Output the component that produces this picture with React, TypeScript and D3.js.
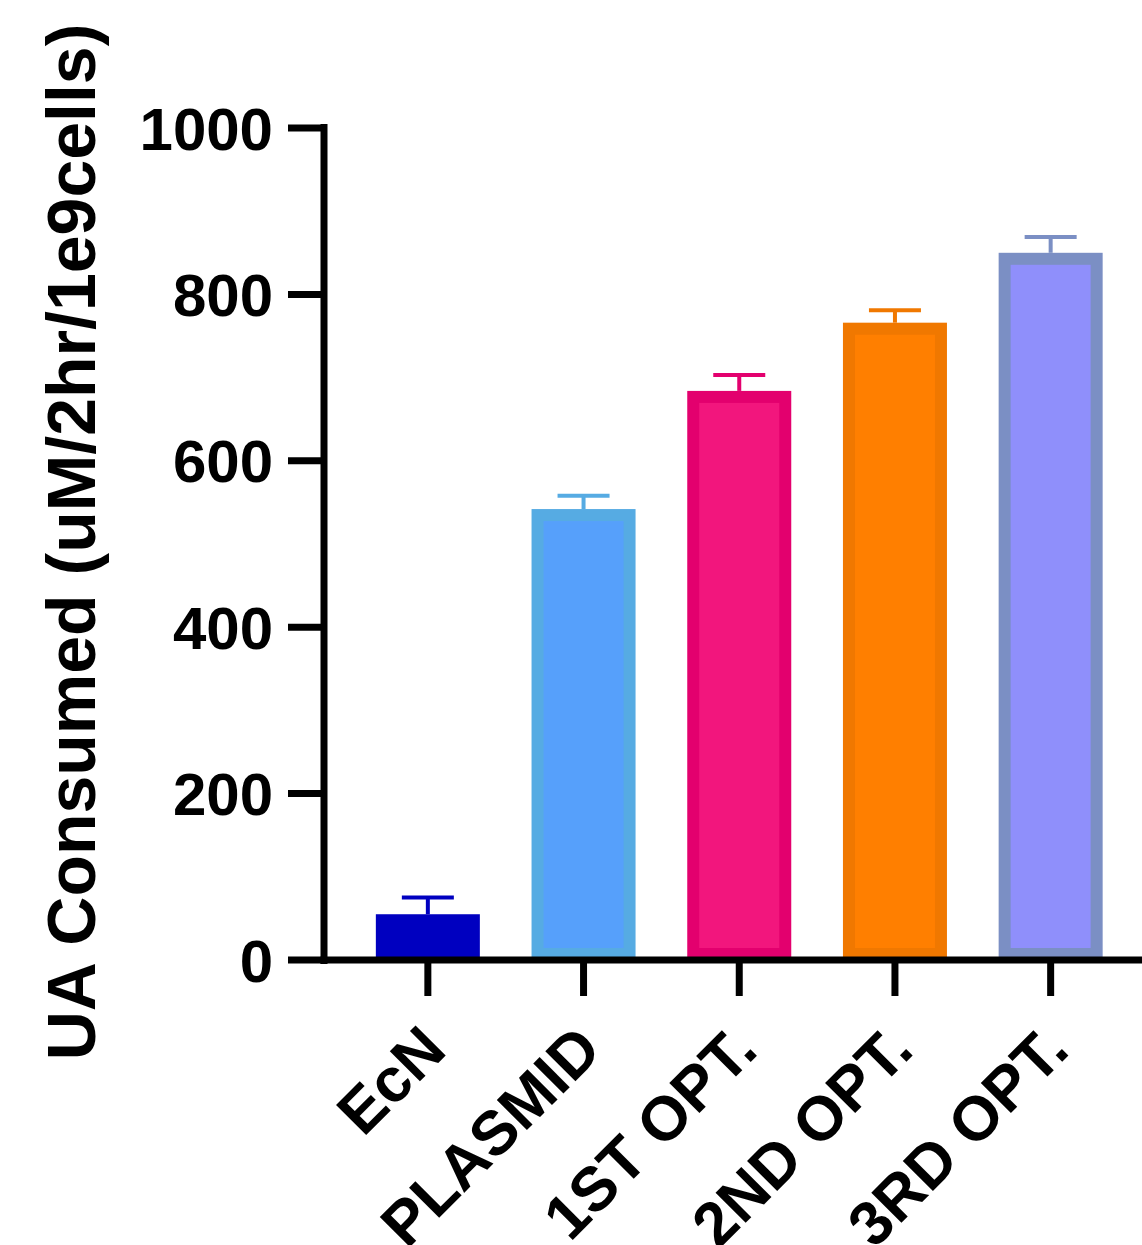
import { useEffect, useRef } from "react";
import * as d3 from "d3";

const categories = ["EcN", "PLASMID", "1ST OPT.", "2ND OPT.", "3RD OPT."];
const means = [55, 542, 684, 766, 850];
const errors = [20, 16, 19, 15, 19];
const fills = ["#0000C0", "#56A0FB", "#F2167D", "#FF7F00", "#8F8FFB"];
const strokes = ["#0000C0", "#56ABE3", "#E3006E", "#F07800", "#7B8FC4"];
const yTicks = [0, 200, 400, 600, 800, 1000];

const App = () => {
	const svgRef = useRef<SVGSVGElement>(null);

	useEffect(() => {
		if (!svgRef.current) return;
		const width = 1142;
		const height = 1245;
		const font = "Liberation Sans, Arial, sans-serif";

		const svg = d3
			.select(svgRef.current)
			.attr("width", width)
			.attr("height", height);
		svg.selectAll("*").remove();

		const y = d3.scaleLinear().domain([0, 1000]).range([960, 128]);
		const x = d3
			.scaleBand<string>()
			.domain(categories)
			.range([350, 1128.5])
			.paddingInner(0.332)
			.paddingOuter(0.166);

		const bw = 12;
		// Bars with thick borders
		svg
			.selectAll("rect.bar")
			.data(categories)
			.join("rect")
			.attr("class", "bar")
			.attr("x", (d) => x(d)! + bw / 2)
			.attr("y", (d, i) => y(means[i]) + bw / 2)
			.attr("width", x.bandwidth() - bw)
			.attr("height", (d, i) => y(0) - y(means[i]) - bw)
			.attr("fill", (d, i) => fills[i])
			.attr("stroke", (d, i) => strokes[i])
			.attr("stroke-width", bw);

		// Error bars (upper only)
		const capW = 52;
		categories.forEach((c, i) => {
			const cx = x(c)! + x.bandwidth() / 2;
			svg
				.append("line")
				.attr("x1", cx)
				.attr("x2", cx)
				.attr("y1", y(means[i]))
				.attr("y2", y(means[i] + errors[i]))
				.attr("stroke", strokes[i])
				.attr("stroke-width", 4);
			svg
				.append("line")
				.attr("x1", cx - capW / 2)
				.attr("x2", cx + capW / 2)
				.attr("y1", y(means[i] + errors[i]))
				.attr("y2", y(means[i] + errors[i]))
				.attr("stroke", strokes[i])
				.attr("stroke-width", 4);
		});

		// Y axis
		const axisX = 324;
		svg
			.append("line")
			.attr("x1", axisX)
			.attr("x2", axisX)
			.attr("y1", y(1000) - 4)
			.attr("y2", y(0) + 4)
			.attr("stroke", "#000")
			.attr("stroke-width", 7);
		yTicks.forEach((t) => {
			svg
				.append("line")
				.attr("x1", 288)
				.attr("x2", axisX)
				.attr("y1", y(t))
				.attr("y2", y(t))
				.attr("stroke", "#000")
				.attr("stroke-width", 7);
			svg
				.append("text")
				.attr("x", 273)
				.attr("y", y(t))
				.attr("dy", "0.36em")
				.attr("text-anchor", "end")
				.style("font-family", font)
				.style("font-weight", "bold")
				.style("font-size", "60px")
				.text(t);
		});

		// X axis
		svg
			.append("line")
			.attr("x1", axisX - 3.5)
			.attr("x2", width)
			.attr("y1", y(0))
			.attr("y2", y(0))
			.attr("stroke", "#000")
			.attr("stroke-width", 7);
		categories.forEach((c) => {
			const cx = x(c)! + x.bandwidth() / 2;
			svg
				.append("line")
				.attr("x1", cx)
				.attr("x2", cx)
				.attr("y1", y(0))
				.attr("y2", 996)
				.attr("stroke", "#000")
				.attr("stroke-width", 7);
			svg
				.append("text")
				.attr("transform", `translate(${cx - 10}, ${1022}) rotate(-45)`)
				.attr("text-anchor", "end")
				.attr("dy", "0.7em")
				.style("font-family", font)
				.style("font-weight", "bold")
				.style("font-size", "62px")
				.text(c);
		});

		// Y axis title
		svg
			.append("text")
			.attr("transform", `translate(95, 542) rotate(-90)`)
			.attr("text-anchor", "middle")
			.style("font-family", font)
			.style("font-weight", "bold")
			.style("font-size", "68px")
			.text("UA Consumed (uM/2hr/1e9cells)");
	}, []);

	return (
		<svg
			ref={svgRef}
			style={{ position: "absolute", left: 0, top: 0, background: "#fff" }}
		/>
	);
};

export default App;
